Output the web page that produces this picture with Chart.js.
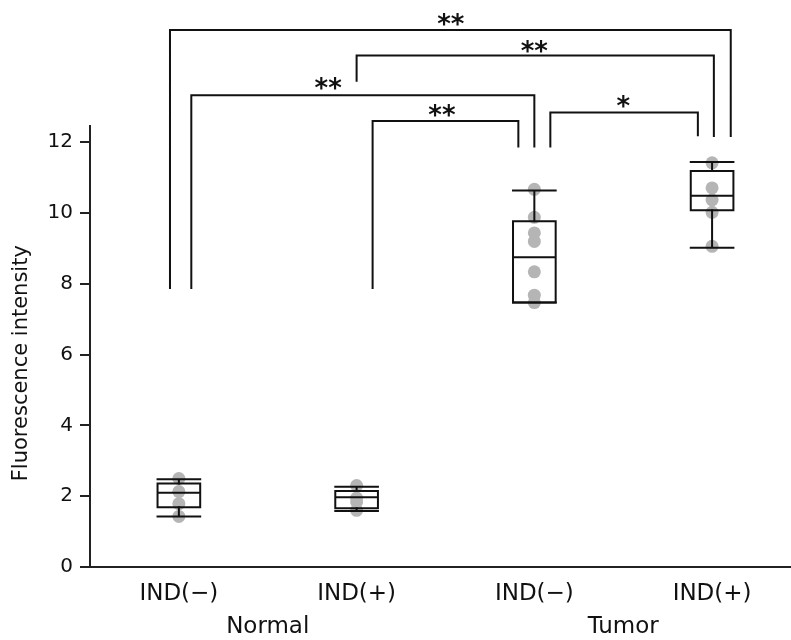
<!DOCTYPE html>
<html>
<head>
<meta charset="utf-8">
<script src="https://cdn.jsdelivr.net/npm/chart.js@4.4.1/dist/chart.umd.min.js"></script>
<style>
  html, body { margin: 0; padding: 0; background: #fff; }
</style>
</head>
<body>
<canvas id="chart" width="791" height="640"></canvas>
<script>
const groupLabels = ['IND(−)', 'IND(+)', 'IND(−)', 'IND(+)'];
const groupPos = [1, 2, 3, 4];
const tissueLabels = ['Normal', 'Tumor'];
const tissuePos = [1.5, 3.5];
const yTicks = [0, 2, 4, 6, 8, 10, 12];

// individual samples (grey dots)
const samples = [
    [2.50, 2.13, 1.79, 1.43],
    [2.30, 1.95, 1.84, 1.60],
    [10.67, 9.88, 9.44, 9.20, 8.34, 7.68, 7.47],
    [11.42, 10.71, 10.37, 10.02, 9.06]
];

// box plot stats
const whiskLow  = [1.43, 1.58, 7.47, 9.02];
const q1        = [1.69, 1.66, 7.47, 10.08];
const median    = [2.10, 1.97, 8.75, 10.49];
const q3        = [2.36, 2.15, 9.77, 11.19];
const whiskHigh = [2.48, 2.27, 10.64, 11.44];

// significance brackets
const brStart  = [0.95, 2.00, 1.07, 2.09, 3.09];
const brEnd    = [4.105, 4.01, 3.00, 2.91, 3.92];
const brLeftY  = [7.88, 13.74, 7.88, 7.88, 11.88];
const brTopY   = [15.17, 14.45, 13.33, 12.60, 12.84];
const brRightY = [12.18, 12.18, 11.88, 11.88, 12.20];
const starText = ['**', '**', '**', '**', '*'];
const starX    = [2.53, 3.00, 1.84, 2.48, 3.50];
const starY    = [15.48, 14.70, 13.66, 12.91, 13.14];

const BOX_HALF = 0.12;
const FONT = 'DejaVu Sans';
const INK = '#111';

// build line paths, null y breaks the line
const boxPts = [], whiskPts = [], bracketPts = [], dotPts = [];
groupPos.forEach((c, i) => {
    const l = c - BOX_HALF, r = c + BOX_HALF;
    boxPts.push({x: l, y: q1[i]}, {x: r, y: q1[i]}, {x: r, y: q3[i]}, {x: l, y: q3[i]}, {x: l, y: q1[i]}, {x: l, y: null});
    boxPts.push({x: l, y: median[i]}, {x: r, y: median[i]}, {x: r, y: null});
    whiskPts.push({x: c, y: q3[i]}, {x: c, y: whiskHigh[i]}, {x: c, y: null});
    whiskPts.push({x: c, y: q1[i]}, {x: c, y: whiskLow[i]}, {x: c, y: null});
    whiskPts.push({x: l, y: whiskHigh[i]}, {x: r, y: whiskHigh[i]}, {x: r, y: null});
    whiskPts.push({x: l, y: whiskLow[i]}, {x: r, y: whiskLow[i]}, {x: r, y: null});
    samples[i].forEach(v => dotPts.push({x: c, y: v}));
});
brStart.forEach((s, i) => {
    bracketPts.push({x: s, y: brLeftY[i]}, {x: s, y: brTopY[i]}, {x: brEnd[i], y: brTopY[i]}, {x: brEnd[i], y: brRightY[i]}, {x: brEnd[i], y: null});
});

const lineSet = (data) => ({
    type: 'scatter', data, showLine: true, spanGaps: false, clip: false,
    borderColor: INK, borderWidth: 2, pointRadius: 0, tension: 0,
    borderCapStyle: 'square', borderJoinStyle: 'miter', order: 0
});

// asterisks above the brackets
const starPlugin = {
    id: 'stars',
    afterDatasetsDraw(chart) {
        const {ctx, scales: {x, y}} = chart;
        ctx.save();
        ctx.font = `bold 26px "${FONT}"`;
        ctx.fillStyle = INK;
        ctx.textAlign = 'center';
        starText.forEach((t, i) => {
            const m = ctx.measureText(t);
            const yc = y.getPixelForValue(starY[i]);
            ctx.fillText(t, x.getPixelForValue(starX[i]), yc + (m.actualBoundingBoxAscent - m.actualBoundingBoxDescent) / 2);
        });
        ctx.restore();
    }
};

new Chart(document.getElementById('chart'), {
    type: 'scatter',
    data: {
        datasets: [
            {data: dotPts, pointRadius: 6.5, pointBackgroundColor: '#b5b5b5', pointBorderWidth: 0, clip: false, order: 10},
            lineSet(boxPts),
            lineSet(whiskPts),
            lineSet(bracketPts)
        ]
    },
    options: {
        responsive: false,
        devicePixelRatio: 1,
        animation: false,
        events: [],
        layout: { autoPadding: false, padding: { top: 126, left: 0, right: 0, bottom: 0 } },
        plugins: { legend: { display: false }, tooltip: { enabled: false } },
        scales: {
            x: {
                type: 'linear', position: 'bottom', weight: 0, min: 0.5, max: 4.444,
                grid: { display: false, drawTicks: false },
                border: { display: true, color: '#222', width: 2 },
                afterBuildTicks: a => { a.ticks = groupPos.map(v => ({value: v})); },
                ticks: {
                    callback: v => groupLabels[groupPos.indexOf(v)],
                    font: { family: FONT, size: 23 }, color: INK, padding: 13,
                    maxRotation: 0, autoSkip: false
                },
                afterFit: s => { s.height = 40; }
            },
            x2: {
                type: 'linear', position: 'bottom', weight: 1, min: 0.5, max: 4.444,
                grid: { display: false, drawTicks: false },
                border: { display: false },
                afterBuildTicks: a => { a.ticks = tissuePos.map(v => ({value: v})); },
                ticks: {
                    callback: v => tissueLabels[tissuePos.indexOf(v)],
                    font: { family: FONT, size: 23 }, color: INK, padding: 6,
                    maxRotation: 0, autoSkip: false
                },
                afterFit: s => { s.height = 33; }
            },
            y: {
                type: 'linear', min: 0, max: 12.46,
                afterBuildTicks: a => { a.ticks = yTicks.map(v => ({value: v})); },
                grid: { drawOnChartArea: false, drawTicks: true, tickLength: 10, color: '#222', lineWidth: 2 },
                border: { display: true, color: '#222', width: 2 },
                ticks: { padding: 7, font: { family: FONT, size: 20 }, color: INK },
                title: {
                    display: true, text: 'Fluorescence intensity     ',
                    font: { family: FONT, size: 21 }, color: INK, padding: { top: 9, bottom: 0 }
                },
                afterFit: s => { s.width = 90; }
            }
        }
    },
    plugins: [starPlugin]
});
</script>
</body>
</html>
